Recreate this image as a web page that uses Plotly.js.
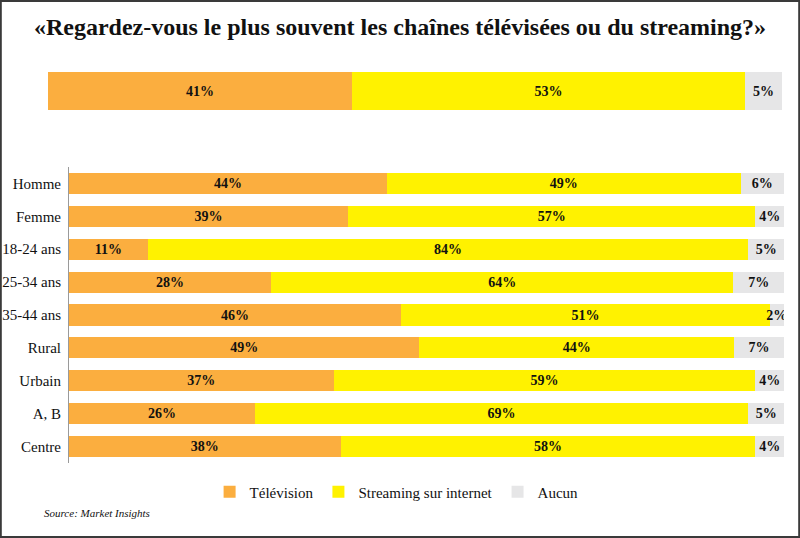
<!DOCTYPE html>
<html>
<head>
<meta charset="utf-8">
<script src="https://cdn.plot.ly/plotly-3.0.1.min.js"></script>
<style>
html,body{margin:0;padding:0;background:#fff;}
#chart{width:800px;height:538px;}
</style>
</head>
<body>
<div id="chart"></div>
<script>
// ---- data ----
const categories = ["Homme", "Femme", "18-24 ans", "25-34 ans", "35-44 ans", "Rural", "Urbain", "A, B", "Centre"];
const television = [44, 39, 11, 28, 46, 49, 37, 26, 38];
const streaming  = [49, 57, 84, 64, 51, 44, 59, 69, 58];
const aucun      = [6, 4, 5, 7, 2, 7, 4, 5, 4];

const totalLabel = ["Total"];
const totalTelevision = [41];
const totalStreaming  = [53];
const totalAucun      = [5];

const seriesNames = ["Télévision", "Streaming sur internet", "Aucun"];
const seriesColors = ["#FBAE3F", "#FFF200", "#E6E6E7"];

// ---- helpers ----
function share(arrs, k) {
  return arrs[k].map((v, i) => {
    const s = arrs.reduce((a, arr) => a + arr[i], 0);
    return v / s * 100;
  });
}

const W = 800, H = 538;
const textFont = {family: "Liberation Serif", size: 14, color: "#111", weight: "bold"};

const rows = [television, streaming, aucun];
const totals = [totalTelevision, totalStreaming, totalAucun];

const traces = [];
for (let k = 0; k < 3; k++) {
  traces.push({
    type: "bar", orientation: "h",
    x: share(rows, k), y: categories,
    name: seriesNames[k],
    marker: {color: seriesColors[k], line: {width: 0}},
    text: rows[k].map(v => "<b>" + v + "%</b>"),
    textposition: "inside", insidetextanchor: "middle",
    constraintext: "none", textangle: 0,
    textfont: textFont,
    hoverinfo: "skip",
    xaxis: "x", yaxis: "y",
    showlegend: true
  });
}
for (let k = 0; k < 3; k++) {
  traces.push({
    type: "bar", orientation: "h",
    x: share(totals, k), y: totalLabel,
    width: 1,
    name: seriesNames[k],
    marker: {color: seriesColors[k], line: {width: 0}},
    text: totals[k].map(v => "<b>" + v + "%</b>"),
    textposition: "inside", insidetextanchor: "middle",
    constraintext: "none", textangle: 0,
    textfont: textFont,
    hoverinfo: "skip",
    xaxis: "x2", yaxis: "y2",
    showlegend: false
  });
}

const layout = {
  width: W, height: H,
  margin: {l: 0, r: 0, t: 0, b: 0},
  paper_bgcolor: "#fff", plot_bgcolor: "#fff",
  barmode: "stack",
  bargap: 0.36,
  font: {family: "Liberation Serif", size: 14, color: "#111"},
  title: {
    text: "<b>«Regardez-vous le plus souvent les chaînes télévisées ou du streaming?»</b>",
    font: {family: "Liberation Serif", size: 24, color: "#111"},
    x: 0.5, xanchor: "center", y: 1 - 27 / H, yanchor: "middle"
  },
  xaxis: {domain: [69 / W, 784 / W], range: [0, 100], showgrid: false, zeroline: false, showticklabels: false, fixedrange: true},
  yaxis: {domain: [1 - 463 / H, 1 - 167 / H], autorange: "reversed", showline: true, linecolor: "#9a9a9a", linewidth: 1,
          ticks: "", showgrid: false, tickfont: {family: "Liberation Serif", size: 15, color: "#111"}, ticklabelstandoff: 4},
  xaxis2: {domain: [48 / W, 782 / W], range: [0, 100], showgrid: false, zeroline: false, showticklabels: false, anchor: "y2"},
  yaxis2: {domain: [1 - 110 / H, 1 - 72 / H], range: [-0.5, 0.5], showticklabels: false, showgrid: false, zeroline: false, anchor: "x2"},
  legend: {
    orientation: "h", x: 0.262, xanchor: "left", y: 1 - 492 / H, yanchor: "middle",
    font: {family: "Liberation Serif", size: 15, color: "#111"},
    traceorder: "normal", itemclick: false, entrywidth: 0
  },
  shapes: [{type: "rect", xref: "paper", yref: "paper", x0: 0.001, x1: 0.999, y0: 0.002, y1: 0.998,
            line: {color: "#3a3a3a", width: 2}, fillcolor: "rgba(0,0,0,0)"}],
  annotations: [{
    text: "<i>Source: Market Insights</i>", xref: "paper", yref: "paper",
    x: 42 / W, y: 1 - 513 / H, xanchor: "left", yanchor: "middle", showarrow: false,
    font: {family: "Liberation Serif", size: 11, color: "#111"}
  }]
};

Plotly.newPlot("chart", traces, layout, {displayModeBar: false, staticPlot: true});
</script>
</body>
</html>
